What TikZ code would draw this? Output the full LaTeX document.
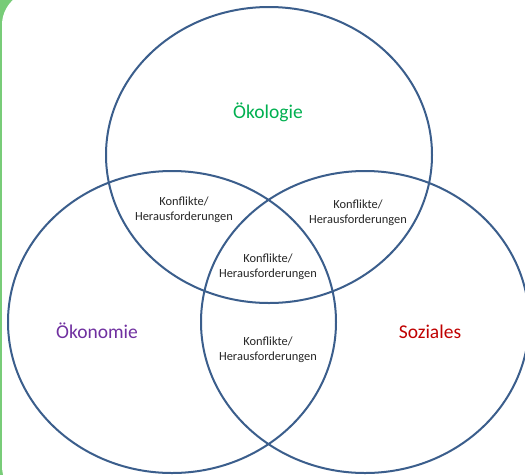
\documentclass[tikz,border=0pt]{standalone}
\usepackage{fontspec}
\setmainfont{Carlito}
\definecolor{frame}{RGB}{120,204,120}
\definecolor{ring}{RGB}{59,94,140}
\definecolor{oeko}{RGB}{0,176,80}
\definecolor{econ}{RGB}{112,48,160}
\definecolor{soz}{RGB}{192,0,0}
\begin{document}
\begin{tikzpicture}[x=1pt,y=-1pt,
  ring/.style={draw=ring,line width=2pt},
  big/.style={font=\fontsize{19.5}{22}\selectfont,inner sep=0pt},
  small/.style={font=\fontsize{12.4}{15}\selectfont,align=center,inner sep=0pt,text=black!85}]
\useasboundingbox (0,0) rectangle (525,475);
\fill[frame] (0,0) rectangle (525,475);
\fill[white,rounded corners=34pt] (2,-9) rectangle (560,500);
\begin{scope}
\clip (0,0) rectangle (525,475);
\draw[ring] (269,155) ellipse [x radius=163, y radius=148];
\draw[ring] (172,322) ellipse [x radius=164, y radius=151];
\draw[ring] (365,322) ellipse [x radius=164, y radius=151];
\end{scope}
\node[big,text=oeko] (oek) at (268,112) {Ökologie};
\node[big,text=econ] (econ) at (97,331) {Ökonomie};
\node[big,text=soz] (soz) at (430,332) {Soziales};
\node[small] (k1) at (184,210) {Konflikte/\\Herausforderungen};
\node[small] (k2) at (358,213) {Konflikte/\\Herausforderungen};
\node[small] (k3) at (268,267) {Konflikte/\\Herausforderungen};
\node[small] (k4) at (268,350) {Konflikte/\\Herausforderungen};
\end{tikzpicture}
\end{document}
